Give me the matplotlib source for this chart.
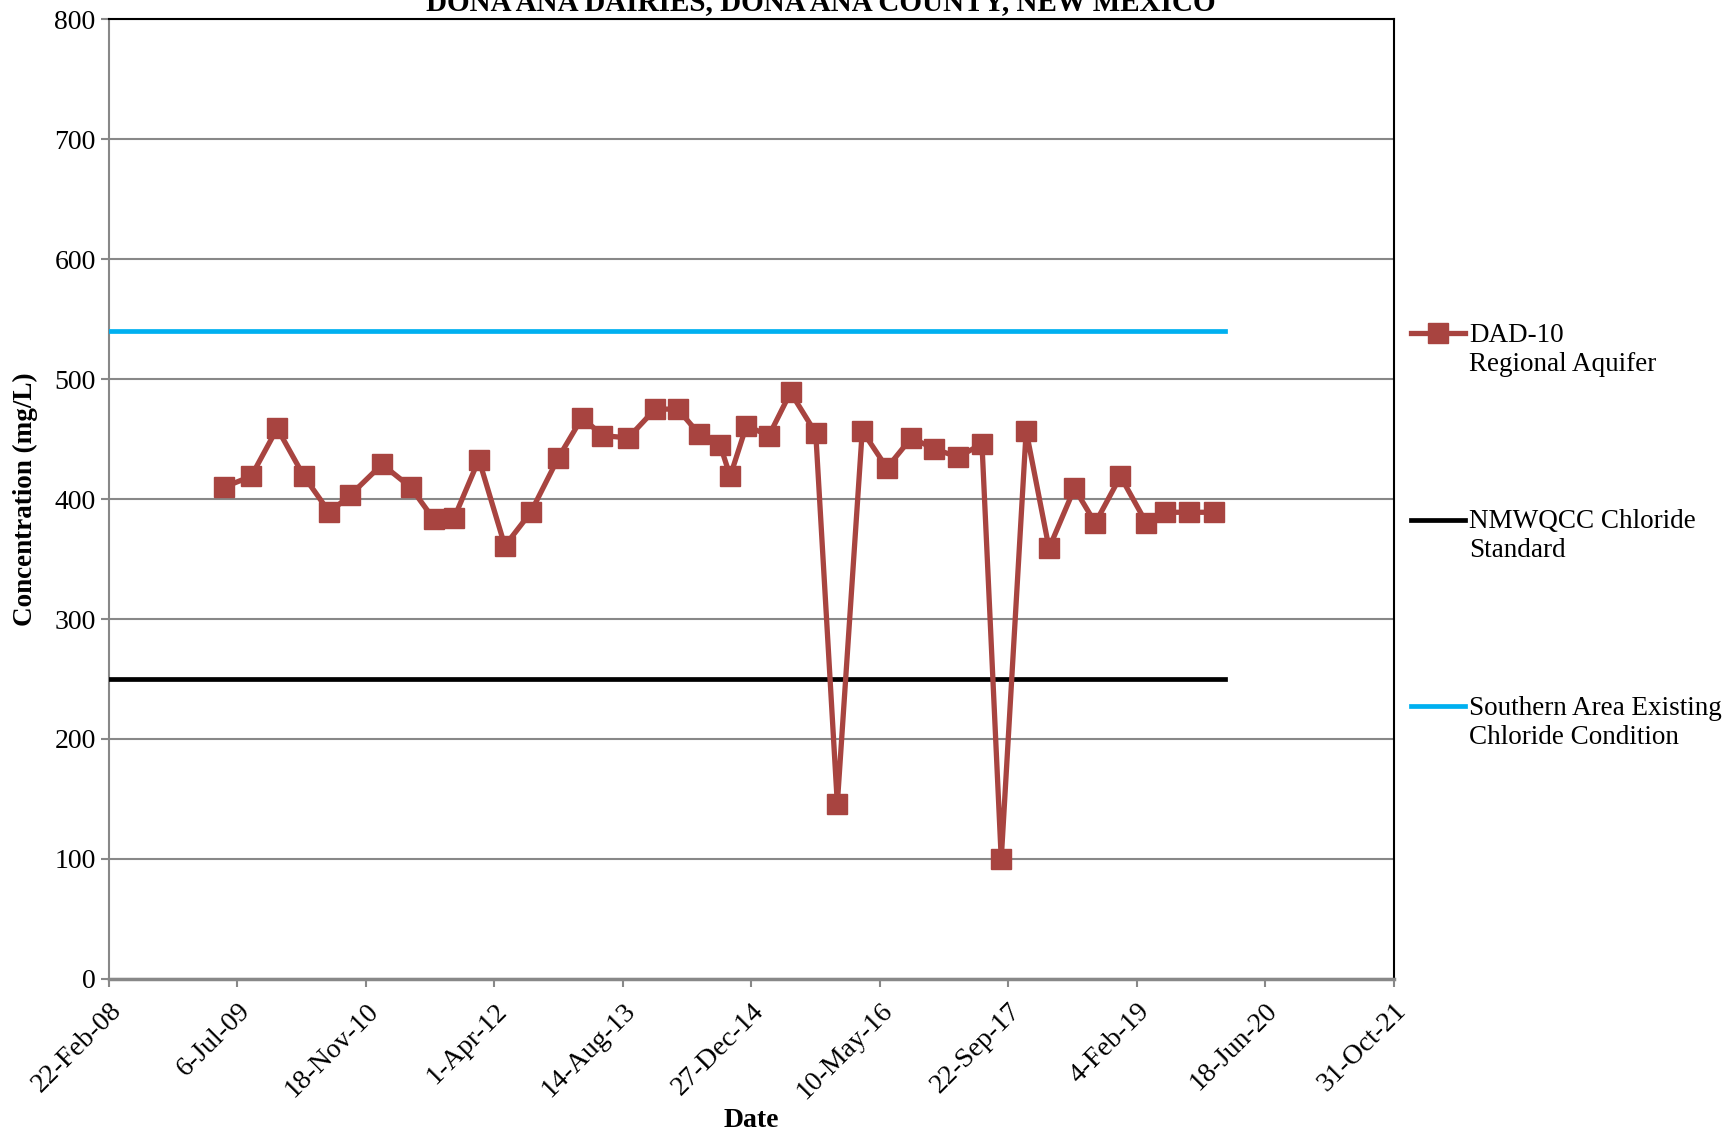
import matplotlib
matplotlib.use('Agg')
import matplotlib.pyplot as plt
from matplotlib.legend_handler import HandlerLine2D
import pandas as pd

# sample dates and chloride results, well DAD-10
dates = ['2009-05-15', '2009-08-29', '2009-12-08', '2010-03-22', '2010-06-29',
         '2010-09-17', '2011-01-20', '2011-05-11', '2011-08-10', '2011-10-27',
         '2012-02-01', '2012-05-12', '2012-08-21', '2012-12-05', '2013-03-09',
         '2013-05-26', '2013-09-04', '2013-12-18', '2014-03-16', '2014-06-08',
         '2014-08-28', '2014-10-06', '2014-12-08', '2015-03-06', '2015-05-29',
         '2015-09-04', '2015-11-27', '2016-03-03', '2016-06-07', '2016-09-10',
         '2016-12-08', '2017-03-10', '2017-06-12', '2017-08-26', '2017-12-01',
         '2018-02-28', '2018-06-07', '2018-08-27', '2018-12-03', '2019-03-14',
         '2019-05-27', '2019-08-26', '2019-12-03']
chloride = [410, 419, 459, 419, 389, 403, 429, 410, 383, 384,
            433, 361, 389, 434, 468, 453, 451, 475, 475, 454,
            445, 419, 461, 453, 489, 455, 146, 457, 426, 451,
            442, 435, 446, 100, 457, 359, 409, 380, 419, 380,
            389, 389, 389]

std_dates = ['2008-02-22', '2020-01-15']
nmwqcc_std = [250, 250]
southern_cond = [540, 540]

tick_dates = ['2008-02-22', '2009-07-06', '2010-11-18', '2012-04-01', '2013-08-14',
              '2014-12-27', '2016-05-10', '2017-09-22', '2019-02-04', '2020-06-18',
              '2021-10-31']
tick_labels = ['22-Feb-08', '6-Jul-09', '18-Nov-10', '1-Apr-12', '14-Aug-13',
               '27-Dec-14', '10-May-16', '22-Sep-17', '4-Feb-19', '18-Jun-20',
               '31-Oct-21']


class FirstLineHandler(HandlerLine2D):
    # put the legend line next to the first text line, like Excel does
    def create_artists(self, legend, orig_handle, xdescent, ydescent,
                       width, height, fontsize, trans):
        return super().create_artists(legend, orig_handle, xdescent,
                                      ydescent - 1.2 * fontsize, width, height,
                                      fontsize, trans)


plt.rcParams['font.family'] = ['Liberation Serif', 'DejaVu Serif']

fig = plt.figure(figsize=(17.29, 11.33), dpi=100)
ax = fig.add_axes([0.063, 0.136, 0.743, 0.847])

x = pd.to_datetime(dates)
xs = pd.to_datetime(std_dates)

ax.plot(x, chloride, color='#A84440', lw=3.8, marker='s', ms=14,
        label='DAD-10\nRegional Aquifer', zorder=4)
ax.plot(xs, nmwqcc_std, color='black', lw=3.4,
        label='NMWQCC Chloride\nStandard', zorder=3)
ax.plot(xs, southern_cond, color='#00B0F0', lw=3.4,
        label='Southern Area Existing\nChloride Condition', zorder=3)

ax.set_ylim(0, 800)
ax.set_yticks(range(0, 801, 100))
ax.set_xlim(pd.Timestamp(tick_dates[0]), pd.Timestamp(tick_dates[-1]))
ax.set_xticks(pd.to_datetime(tick_dates))
ax.set_xticklabels(tick_labels, rotation=45, ha='right', rotation_mode='anchor')
ax.tick_params(axis='both', labelsize=20, direction='out', length=6,
               color='#888888', width=1.5)
ax.tick_params(axis='x', pad=8)

ax.grid(axis='y', color='#888888', lw=1.5)
ax.set_axisbelow(True)
ax.spines['left'].set_color('#888888')
ax.spines['bottom'].set_color('#888888')
ax.spines['left'].set_linewidth(1.5)
ax.spines['bottom'].set_linewidth(2.5)
ax.spines['top'].set_linewidth(1.5)
ax.spines['right'].set_linewidth(1.5)

ax.set_ylabel('Concentration (mg/L)', fontsize=19.5, fontweight='bold', labelpad=12)
ax.set_xlabel('Date', fontsize=20, fontweight='bold', labelpad=3)

fig.text(0.475, 0.998, 'DONA ANA DAIRIES, DONA ANA COUNTY, NEW MEXICO',
         ha='center', va='center', fontsize=21, fontweight='bold')

ax.legend(loc='upper left', bbox_to_anchor=(1.005, 0.695), frameon=False,
          fontsize=19.5, handlelength=2.0, handletextpad=0.15, labelspacing=4.9,
          borderaxespad=0, handler_map={plt.Line2D: FirstLineHandler()})

fig.savefig('out.png', dpi=100)
